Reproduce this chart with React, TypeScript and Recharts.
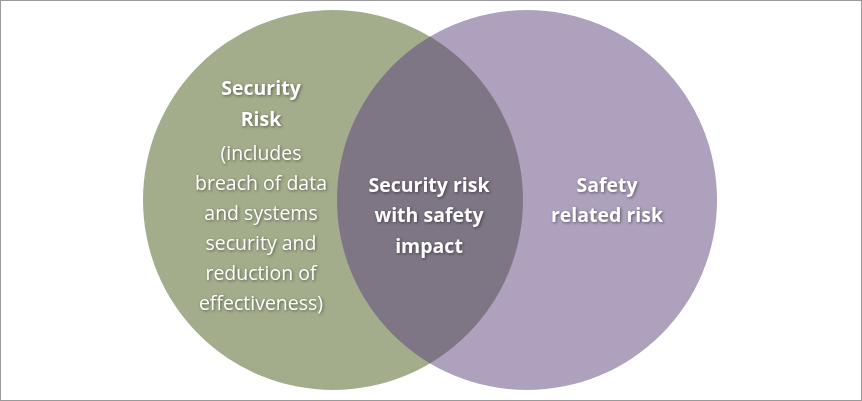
import React from "react"
import { ScatterChart, Scatter, XAxis, YAxis } from "recharts"

const W = 862
const H = 401

const circles = [
  { x: 333, y: 200, r: 190, fill: "#a3ad8b" },
  { x: 527, y: 200, r: 190, fill: "#ada1bd" },
]

const labelLines = [
  { x: 261, y: 90, text: "Security", bold: true },
  { x: 261, y: 121, text: "Risk", bold: true },
  { x: 261, y: 155, text: "(includes", bold: false },
  { x: 261, y: 185, text: "breach of data", bold: false },
  { x: 261, y: 215, text: "and systems", bold: false },
  { x: 261, y: 245, text: "security and", bold: false },
  { x: 261, y: 275, text: "reduction of", bold: false },
  { x: 261, y: 305, text: "effectiveness)", bold: false },
  { x: 429, y: 187, text: "Security risk", bold: true },
  { x: 429, y: 217, text: "with safety", bold: true },
  { x: 429, y: 248, text: "impact", bold: true },
  { x: 607, y: 187, text: "Safety", bold: true },
  { x: 607, y: 217, text: "related risk", bold: true },
]

const overlap = [{ x: 430, y: 200 }]

const CircleShape = (props: any) => {
  const { cx, cy, payload } = props
  return <circle cx={cx} cy={cy} r={payload.r} fill={payload.fill} />
}

const LensShape = () => {
  const a = circles[0]
  const b = circles[1]
  return (
    <g>
      <defs>
        <clipPath id="leftClip">
          <circle cx={a.x} cy={a.y} r={a.r} />
        </clipPath>
      </defs>
      <circle cx={b.x} cy={b.y} r={b.r} fill="#7e7585" clipPath="url(#leftClip)" />
    </g>
  )
}

const TextShape = (props: any) => {
  const { cx, cy, payload } = props
  return (
    <text
      x={cx}
      y={cy}
      textAnchor="middle"
      dominantBaseline="middle"
      fill="#ffffff"
      fontFamily="'Open Sans', 'Noto Sans', sans-serif"
      fontSize={19.5}
      fontWeight={payload.bold ? 700 : 400}
      style={{ filter: "drop-shadow(1px 1px 1.5px rgba(0,0,0,0.45))" }}
    >
      {payload.text}
    </text>
  )
}

export default function App() {
  return (
    <div style={{ position: "absolute", left: 0, top: 0, width: W, height: H, background: "#fff" }}>
      <ScatterChart width={W} height={H} margin={{ top: 0, right: 0, bottom: 0, left: 0 }}>
        <XAxis type="number" dataKey="x" domain={[0, W]} hide />
        <YAxis type="number" dataKey="y" domain={[0, H]} reversed hide />
        <Scatter data={circles} shape={CircleShape} isAnimationActive={false} />
        <Scatter data={overlap} shape={LensShape} isAnimationActive={false} />
        <Scatter data={labelLines} shape={TextShape} isAnimationActive={false} />
      </ScatterChart>
      <div
        style={{
          position: "absolute",
          left: 0,
          top: 0,
          width: W - 2,
          height: H - 2,
          border: "1px solid #9a9a9a",
          pointerEvents: "none",
        }}
      />
    </div>
  )
}
